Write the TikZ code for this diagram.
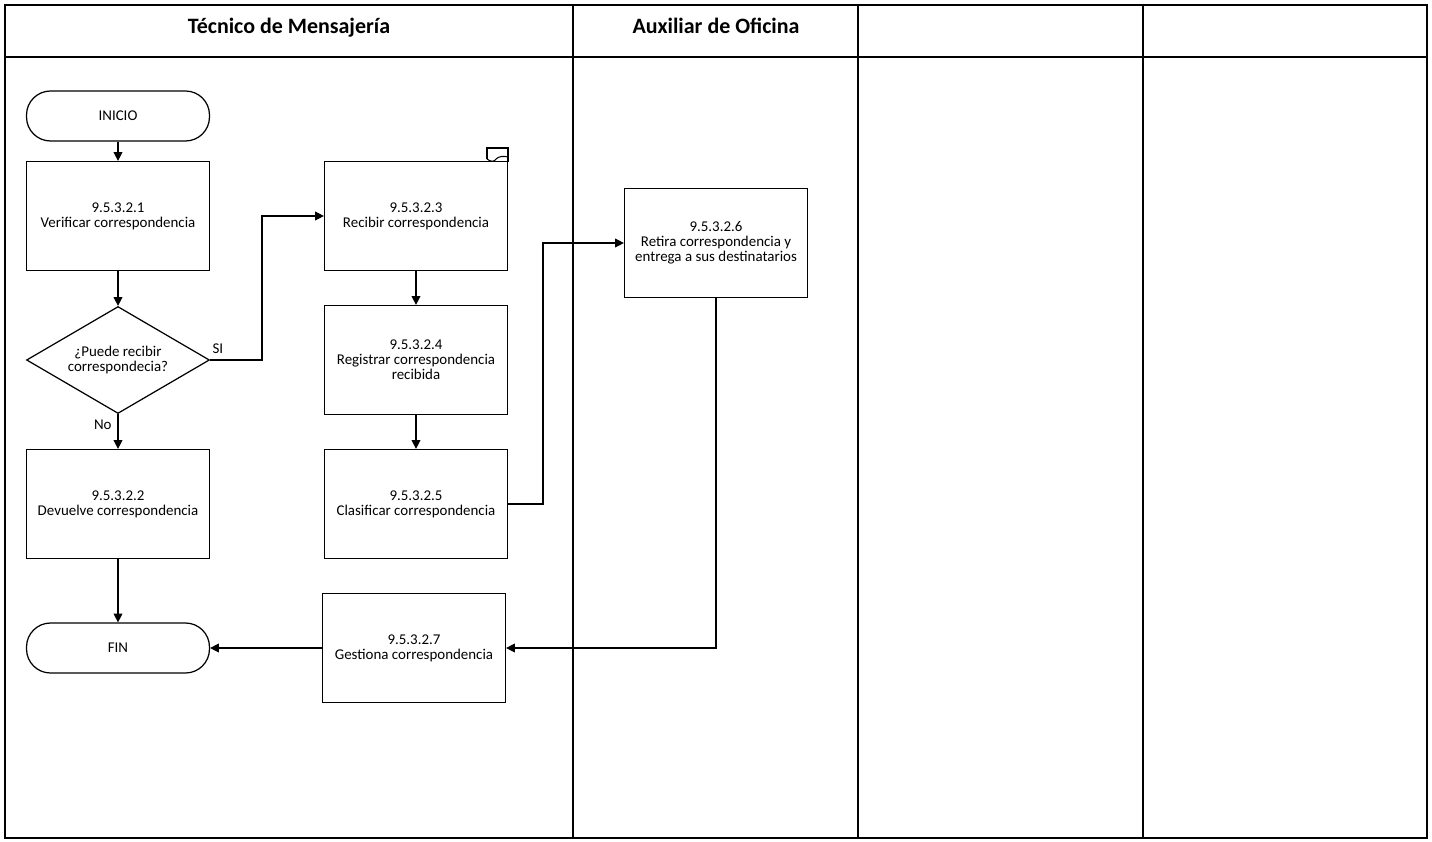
\documentclass[tikz,border=0pt]{standalone}
\usepackage{fontspec}
\setmainfont{Carlito}
\usetikzlibrary{shapes.geometric,arrows.meta}

\begin{document}
\begin{tikzpicture}[
        x=0.02cm, y=-0.02cm,
        every node/.style={font=\fontsize{8.5}{8.5}\selectfont, align=center},
        proceso/.style={draw, rectangle, minimum width=3.66cm, minimum height=2.18cm, inner sep=2pt, line width=0.7pt},
        terminal/.style={draw, rectangle, rounded corners=0.48cm, minimum width=3.66cm, minimum height=1cm, line width=0.7pt},
        decision/.style={draw, diamond, shape aspect=1.7, minimum width=3.66cm, minimum height=2.14cm, inner sep=0pt, line width=0.7pt},
        titulo/.style={font=\fontsize{12.5}{14}\selectfont\bfseries, text height=9pt, text depth=3pt},
        flecha/.style={draw, -{Triangle[length=5pt,width=5pt]}, line width=0.7pt},
        carril/.style={draw, line width=0.8pt}
    ]
        \useasboundingbox (0,0) rectangle (1432,841);

        % Lanes
        \path[carril] (5,5) rectangle (1427,838);
        \path[carril] (5,57) -- (1427,57);
        \foreach \x in {573,858,1143} \path[carril] (\x,5) -- (\x,838);
        \node[titulo] (tecnico) at (289,28) {Técnico de Mensajería};
        \node[titulo] (auxiliar) at (716,28) {Auxiliar de Oficina};

        % Nodes
        \node[terminal] (inicio) at (118,116) {INICIO};
        \node[proceso] (verificar) at (118,216) {9.5.3.2.1\\Verificar correspondencia};
        \node[decision] (puede) at (118,360) {¿Puede recibir\\correspondecia?};
        \node[proceso] (devuelve) at (118,504) {9.5.3.2.2\\Devuelve correspondencia};
        \node[terminal] (fin) at (118,648) {FIN};
        \node[proceso] (recibir) at (416,216) {9.5.3.2.3\\Recibir correspondencia};
        \node[proceso] (registrar) at (416,360) {9.5.3.2.4\\Registrar correspondencia\\recibida};
        \node[proceso] (clasificar) at (416,504) {9.5.3.2.5\\Clasificar correspondencia};
        \node[proceso] (retira) at (716,243) {9.5.3.2.6\\Retira correspondencia y\\entrega a sus destinatarios};
        \node[proceso] (gestiona) at (414,648) {9.5.3.2.7\\Gestiona correspondencia};

        % Note mark
        \draw[line width=0.6pt] (487,159) -- (487,148) -- (508,148) -- (508,162);
        \draw[line width=0.6pt] (487,159) .. controls (491,162) and (494,162) .. (496,159) .. controls (499,156) and (504,156) .. (508,157);

        % Arrows
        \path[flecha] (inicio) -- (verificar);
        \path[flecha] (verificar) -- (puede);
        \path[flecha] (puede) -- node[left, pos=0.3] {No} (devuelve);
        \path[flecha] (devuelve) -- (fin);
        \path[flecha] (puede.east) -- node[above, pos=0.15] {SI} ++(52,0) |- (recibir.west);
        \path[flecha] (recibir) -- (registrar);
        \path[flecha] (registrar) -- (clasificar);
        \path[flecha] (clasificar.east) -- ++(35,0) |- (retira.west);
        \path[flecha] (retira.south) |- (gestiona.east);
        \path[flecha] (gestiona) -- (fin);
    \end{tikzpicture}
\end{document}
